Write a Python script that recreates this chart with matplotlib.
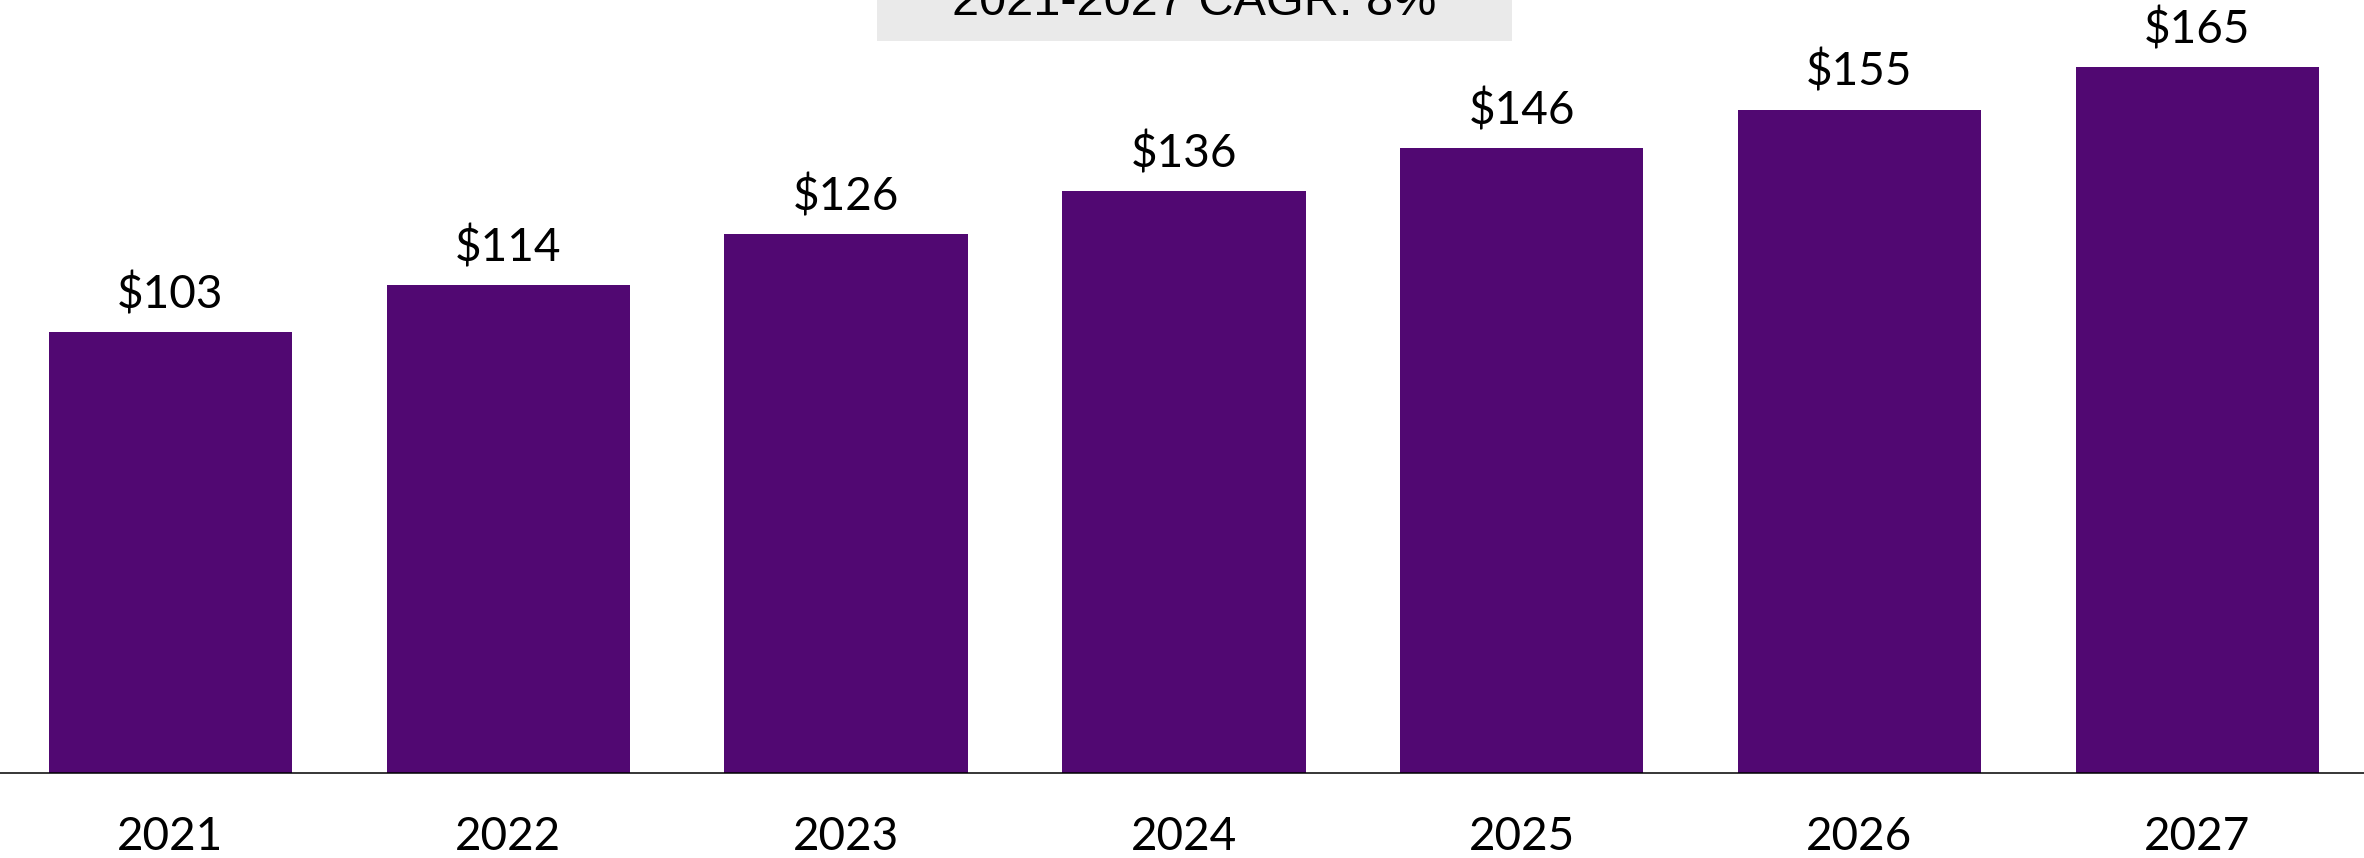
import matplotlib.pyplot as plt
from matplotlib.patches import Rectangle

years = ["2021", "2022", "2023", "2024", "2025", "2026", "2027"]
values = [103, 114, 126, 136, 146, 155, 165]
value_labels = ["$103", "$114", "$126", "$136", "$146", "$155", "$165"]
cagr_text = "2021-2027 CAGR: 8%"

BAR_COLOR = "#510872"
W, H, DPI = 2364, 858, 100

fig = plt.figure(figsize=(W / DPI, H / DPI), dpi=DPI)

# axes: baseline at 773 px from top, 4.28 px per unit
px_per_unit = 4.28
ymax = 180
base_px = 773
ax = fig.add_axes([0, (H - base_px) / H, 1, ymax * px_per_unit / H])

x = list(range(len(years)))
ax.bar(x, values, width=0.72, color=BAR_COLOR, zorder=2)
ax.set_xlim(-0.5047, 6.4935)
ax.set_ylim(0, ymax)

for s in ["top", "left", "right"]:
    ax.spines[s].set_visible(False)
ax.spines["bottom"].set_linewidth(1.1)
ax.spines["bottom"].set_color("black")
ax.set_xticks([])
ax.set_yticks([])
ax.patch.set_alpha(0)

label_font = "Lato"
for i, (v, lab) in enumerate(zip(values, value_labels)):
    ax.annotate(lab, (i, v), xytext=(0, 17), textcoords="offset points",
                ha="center", va="baseline", fontsize=33, family=label_font,
                color="black")
    ax.annotate(years[i], (i, 0), xytext=(0, -55.5), textcoords="offset points",
                ha="center", va="baseline", fontsize=33, family=label_font,
                color="black", annotation_clip=False)

# CAGR box at the top (clipped by figure edge)
fig.patches.append(Rectangle((877 / W, (H - 41) / H), (1512 - 877) / W, 41 / H + 0.05,
                             transform=fig.transFigure, facecolor="#EAEAEA",
                             edgecolor="none", zorder=0))
fig.text(1194 / W, (H - 15) / H, cagr_text, ha="center", va="baseline",
         fontsize=35, family="Liberation Sans", color="black")

fig.savefig("out.png", dpi=DPI)
